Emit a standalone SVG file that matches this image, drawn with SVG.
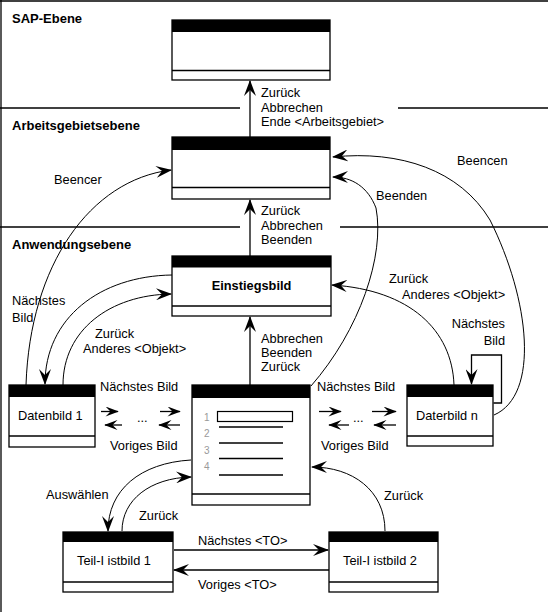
<svg xmlns="http://www.w3.org/2000/svg" width="548" height="612" viewBox="0 0 548 612">
<defs>
<marker id="ah" viewBox="0 0 16 12" markerWidth="16" markerHeight="12" refX="15" refY="6" orient="auto" markerUnits="userSpaceOnUse">
<path d="M0,0 L16,6 L0,12 L6,6 z" fill="#000"/>
</marker>
<marker id="ahs" viewBox="0 0 16 12" markerWidth="14" markerHeight="10" refX="15" refY="6" orient="auto" markerUnits="userSpaceOnUse">
<path d="M0,0 L16,6 L0,12 L6,6 z" fill="#000"/>
</marker>
<style>
text{font-family:"Liberation Sans",Arial,sans-serif;font-size:12.8px;fill:#000}
.lvl{font-weight:bold;font-size:13px}
.b{font-weight:bold}
.dig{font-size:10px;fill:#999}
.box{fill:#fff;stroke:#000;stroke-width:1.3}
.hd{fill:#000}
.ln{stroke:#000;stroke-width:1.3;fill:none}
.c{stroke:#000;stroke-width:1;fill:none}
.a{marker-end:url(#ah)}
.as{marker-end:url(#ahs)}
</style>
</defs>
<g id="frame">
<line x1="1" y1="0" x2="1" y2="612" class="ln"/>
<line x1="0" y1="1" x2="548" y2="1" class="ln"/>
<line x1="0" y1="108" x2="240" y2="108" class="ln"/>
<line x1="398" y1="108" x2="548" y2="108" class="ln"/>
<line x1="0" y1="227" x2="240" y2="227" class="ln"/>
<line x1="340" y1="227" x2="548" y2="227" class="ln"/>
<text class="lvl" x="12" y="23">SAP-Ebene</text>
<text class="lvl" x="12" y="130">Arbeitsgebietsebene</text>
<text class="lvl" x="12" y="249">Anwendungsebene</text>
</g>
<g id="sap">
<rect class="box" x="172" y="20" width="158" height="60"/>
<rect class="hd" x="172" y="20" width="158" height="12"/>
<line class="ln" x1="172" y1="70.5" x2="330" y2="70.5"/>
</g>
<g id="arbeitsgebiet">
<rect class="box" x="172" y="137" width="158" height="62"/>
<rect class="hd" x="172" y="137" width="158" height="13"/>
<line class="ln" x1="172" y1="187.5" x2="330" y2="187.5"/>
</g>
<g id="einstiegsbild">
<rect class="box" x="172" y="256" width="159" height="60"/>
<rect class="hd" x="172" y="256" width="159" height="11.5"/>
<line class="ln" x1="172" y1="306" x2="331" y2="306"/>
<text class="b" x="251.5" y="290" text-anchor="middle">Einstiegsbild</text>
</g>
<g id="datenbild1">
<rect class="box" x="9" y="385" width="86" height="62"/>
<rect class="hd" x="9" y="385" width="86" height="12"/>
<line class="ln" x1="9" y1="436" x2="95" y2="436"/>
<text x="18" y="420">Datenbild 1</text>
</g>
<g id="liste">
<rect class="box" x="192" y="385" width="118" height="120"/>
<rect class="hd" x="192" y="385" width="118" height="13"/>
<line class="ln" x1="192" y1="494" x2="310" y2="494"/>
<rect x="217.5" y="411.5" width="75" height="10" fill="none" stroke="#000" stroke-width="1.2"/>
<line class="ln" x1="219" y1="427" x2="283" y2="427"/>
<line class="ln" x1="219" y1="443" x2="283" y2="443"/>
<line class="ln" x1="219" y1="458.5" x2="283" y2="458.5"/>
<line class="ln" x1="219" y1="475" x2="283" y2="475"/>
<text class="dig" x="204" y="421">1</text>
<text class="dig" x="204" y="437">2</text>
<text class="dig" x="204" y="454">3</text>
<text class="dig" x="204" y="470">4</text>
</g>
<g id="datenbildn">
<rect class="box" x="407" y="385" width="86" height="61"/>
<rect class="hd" x="407" y="385" width="86" height="12"/>
<line class="ln" x1="407" y1="436" x2="493" y2="436"/>
<text x="416" y="419.5">Daterbild n</text>
</g>
<g id="teil1">
<rect class="box" x="63" y="532" width="110" height="60"/>
<rect class="hd" x="63" y="532" width="110" height="10"/>
<line class="ln" x1="63" y1="582" x2="173" y2="582"/>
<text x="77" y="564.5">Teil-I istbild 1</text>
</g>
<g id="teil2">
<rect class="box" x="329" y="532" width="109" height="60"/>
<rect class="hd" x="329" y="532" width="109" height="10"/>
<line class="ln" x1="329" y1="582" x2="438" y2="582"/>
<text x="343" y="564.5">Teil-I istbild 2</text>
</g>
<g id="connectors">
<line class="ln a" x1="250" y1="137" x2="250" y2="81"/>
<line class="ln a" x1="250" y1="256" x2="250" y2="200"/>
<line class="ln a" x1="250" y1="385" x2="250" y2="317"/>
<path class="c a" d="M26,385 C30,265 90,180 171,170"/>
<path class="c a" d="M172,275 C100,276 45,318 45,384"/>
<path class="c a" d="M63,385 C63,330 110,295 171,294"/>
<path class="c a" d="M311,386 C360,330 385,255 376,208 C368,187 352,177 333,177"/>
<path class="c a" d="M494,415 C540,395 530,300 490,220 C460,170 400,150 333,157"/>
<path class="c a" d="M454,385 C452,330 410,290 332,285"/>
<path class="ln a" d="M493.5,403 L501.5,403 L501.5,355 L471.5,355 L471.5,384"/>
<line class="ln as" x1="101" y1="411.5" x2="118" y2="411.5"/>
<line class="ln as" x1="160" y1="411.5" x2="180" y2="411.5"/>
<line class="ln as" x1="122" y1="425" x2="105" y2="425"/>
<line class="ln as" x1="180" y1="425" x2="159" y2="425"/>
<line class="ln as" x1="319" y1="411.5" x2="341" y2="411.5"/>
<line class="ln as" x1="372" y1="411.5" x2="396" y2="411.5"/>
<line class="ln as" x1="349" y1="425" x2="329" y2="425"/>
<line class="ln as" x1="396" y1="425" x2="374" y2="425"/>
<path class="c a" d="M191,460 C140,463 108,490 108,531"/>
<path class="c a" d="M122,531 C122,500 150,478 191,477"/>
<path class="c a" d="M385,531 C385,490 352,467 312,467"/>
<line class="ln a" x1="174" y1="550" x2="328" y2="550"/>
<line class="ln a" x1="329" y1="570" x2="174" y2="570"/>
</g>
<g id="labels">
<text x="261" y="97">Zurück</text>
<text x="261" y="111.5">Abbrechen</text>
<text x="261" y="126">Ende &lt;Arbeitsgebiet&gt;</text>
<text x="261" y="215">Zurück</text>
<text x="261" y="230">Abbrechen</text>
<text x="261" y="244">Beenden</text>
<text x="261" y="343">Abbrechen</text>
<text x="261" y="357">Beenden</text>
<text x="261" y="371">Zurück</text>
<text x="54" y="184">Beencer</text>
<text x="457" y="165">Beencen</text>
<text x="376" y="200">Beenden</text>
<text x="12" y="305">Nächstes</text>
<text x="12" y="322">Bild</text>
<text x="95" y="338">Zurück</text>
<text x="83" y="353">Anderes &lt;Objekt&gt;</text>
<text x="389" y="283">Zurück</text>
<text x="402" y="299">Anderes &lt;Objekt&gt;</text>
<text x="505" y="328" text-anchor="end">Nächstes</text>
<text x="505" y="345" text-anchor="end">Bild</text>
<text x="100" y="391">Nächstes Bild</text>
<text x="317" y="391">Nächstes Bild</text>
<text x="137" y="422">...</text>
<text x="353" y="422">...</text>
<text x="110" y="450">Voriges Bild</text>
<text x="321" y="450">Voriges Bild</text>
<text x="46" y="499">Auswählen</text>
<text x="139" y="519.5">Zurück</text>
<text x="384" y="499.5">Zurück</text>
<text x="198" y="545">Nächstes &lt;TO&gt;</text>
<text x="198" y="588.5">Voriges &lt;TO&gt;</text>
</g>
</svg>
